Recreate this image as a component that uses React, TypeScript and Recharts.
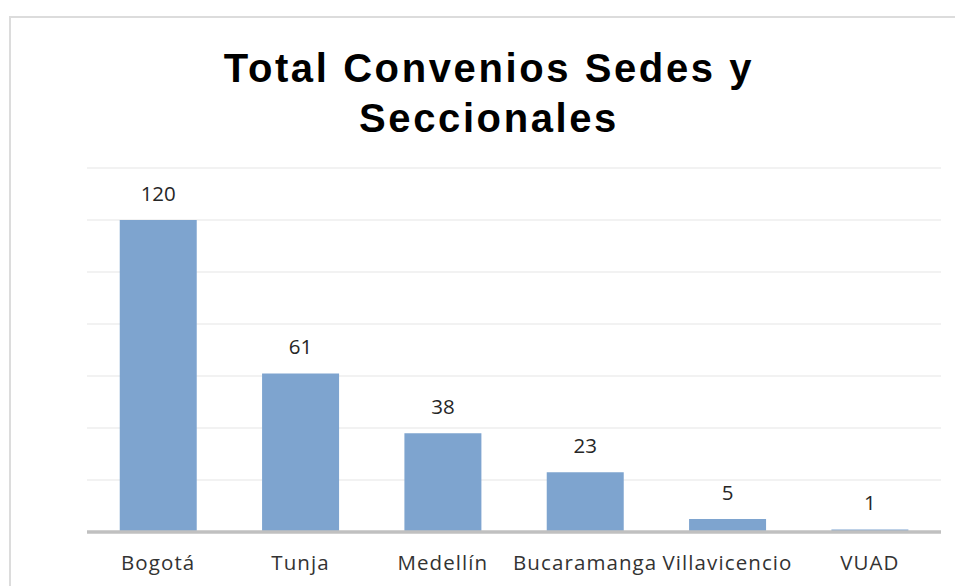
import React from 'react'
import { BarChart, Bar, XAxis, YAxis, CartesianGrid, LabelList } from 'recharts'

const sedes = ['Bogotá', 'Tunja', 'Medellín', 'Bucaramanga', 'Villavicencio', 'VUAD']
const convenios = [120, 61, 38, 23, 5, 1]
const yTicks = [0, 20, 40, 60, 80, 100, 120, 140]
const titleLines = ['Total Convenios Sedes y', 'Seccionales']

const data = sedes.map((sede, i) => ({ sede, convenios: convenios[i] }))

const labelFont = '"Open Sans", "Noto Sans", sans-serif'

const SedeTick = (props: any) => {
  const { x, y, payload } = props
  return (
    <text
      x={x}
      y={y}
      dy={30}
      textAnchor="middle"
      fill="#333333"
      fontSize={20.5}
      fontFamily={labelFont}
      letterSpacing={1.1}
    >
      {payload.value}
    </text>
  )
}

export default function App() {
  return (
    <div style={{ position: 'absolute', left: 0, top: 0, width: 955, height: 586, overflow: 'hidden', background: '#fff' }}>
      <div
        style={{
          position: 'absolute',
          left: 9,
          top: 16,
          width: 946,
          height: 570,
          borderTop: '2px solid #dcdcdc',
          borderLeft: '2px solid #dcdcdc',
          boxSizing: 'border-box',
        }}
      />
      <div
        style={{
          position: 'absolute',
          left: 189,
          top: 43,
          width: 600,
          textAlign: 'center',
          fontFamily: '"Liberation Sans", Arial, sans-serif',
          fontWeight: 'bold',
          fontSize: 40,
          lineHeight: '50px',
          letterSpacing: 2.6,
          color: '#000',
        }}
      >
        {titleLines.map((t) => (
          <div key={t}>{t}</div>
        ))}
      </div>
      <div style={{ position: 'absolute', left: 10, top: 17 }}>
        <BarChart
          width={945}
          height={569}
          data={data}
          margin={{ top: 151, right: 14, bottom: 0, left: 77 }}
          barCategoryGap="23%"
        >
          <CartesianGrid horizontal vertical={false} stroke="#eeeeee" strokeWidth={1.5} />
          <YAxis hide domain={[0, 140]} ticks={yTicks} />
          <Bar dataKey="convenios" fill="#7ea4cf" isAnimationActive={false}>
            <LabelList
              dataKey="convenios"
              position="top"
              offset={19}
              fill="#262626"
              fontSize={20.5}
              fontFamily={labelFont}
            />
          </Bar>
          <XAxis
            dataKey="sede"
            height={54}
            interval={0}
            tickLine={false}
            axisLine={{ stroke: '#c0c0c0', strokeWidth: 3.5 }}
            tick={<SedeTick />}
          />
        </BarChart>
      </div>
    </div>
  )
}
